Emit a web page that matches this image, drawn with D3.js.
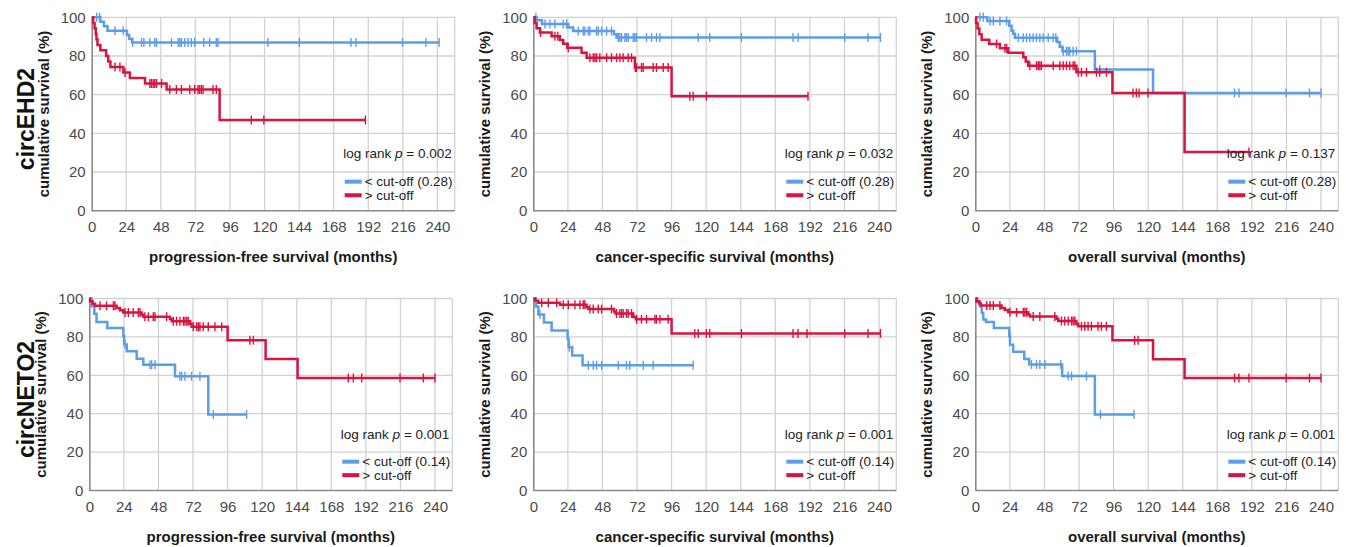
<!DOCTYPE html>
<html><head><meta charset="utf-8">
<script src="https://cdn.jsdelivr.net/npm/d3@7"></script>
<style>
html,body{margin:0;padding:0;background:#fff;}
svg{display:block;font-family:"Liberation Sans",Arial,sans-serif;}
</style></head>
<body><svg id="c" width="1346" height="547"></svg>
<script>
// ---------- data ----------
const rowLabels = ["circEHD2", "circNETO2"];
const cutoffs = ["0.28", "0.14"];
const xTitles = ["progression-free survival (months)", "cancer-specific survival (months)", "overall survival (months)"];
const pValues = [["0.002", "0.032", "0.137"], ["0.001", "0.001", "0.001"]];
const xTicks = [0, 24, 48, 72, 96, 120, 144, 168, 192, 216, 240];
const yTicks = [0, 20, 40, 60, 80, 100];
const legendLow = "< cut-off";
const legendHigh = "> cut-off";

// circEHD2 – progression-free survival
const pfsEHD2LowSteps = [[0,100],[6,97.7],[8.5,95.4],[11,93.1],[24.5,90.9],[26,88.9],[28,87.0]];
const pfsEHD2LowCens = [3.5,5.5,16.2,21.9,28.4,34.6,36.2,40.4,43.8,45,55.4,60,61.2,62.3,64.6,66.9,69.2,71.5,77.8,81.9,86.5,87.7,122.3,144.2,180,183.5,215.8,232,241.2];
const pfsEHD2HighSteps = [[0,100],[1,97.1],[2,94.3],[2.8,91.4],[3.3,88.6],[4,85.7],[6,82.9],[10,80],[11.5,77.1],[13,74.3],[22,71.4],[26.5,68.6],[37,65.8],[52,62.7],[88.8,46.9]];
const pfsEHD2HighCens = [16.2,19.6,23.1,40.4,41.5,42.7,43.8,45,48.5,54.2,58.8,62.3,68.1,71.5,73.8,75,76.2,77.3,84.2,86.5,110.8,119.5,190];

// circEHD2 – cancer-specific survival
const cssEHD2LowSteps = [[0,100],[2.3,98.5],[6,96.6],[24.3,94.7],[27.7,92.9],[56,91.2],[57.8,89.6]];
const cssEHD2LowCens = [1.8,8.1,11.6,15,20.8,23.1,31.2,34.7,35.8,38.2,39.3,43.9,45.1,47.4,50.9,54.3,59,60.1,61.3,63.6,64.7,65.9,69.4,70.5,71.7,78.6,82.1,85.5,87.9,114.5,122.5,144.5,180.3,183.8,216.2,232.4,241];
const cssEHD2HighSteps = [[0,100],[1,97.1],[2.3,94.3],[4.6,92.2],[12.7,90.2],[18.5,88.2],[20.8,86.3],[23.6,84.3],[33.5,81.7],[37,79.1],[70.5,74],[96,59.2]];
const cssEHD2HighCens = [5,15,17,24.3,39.3,41.6,42.8,43.9,46.2,50.9,54.3,57.8,60.1,62.4,65.9,68.2,70.8,71.7,75.1,76.3,83.2,85.5,90.2,93.6,108.7,111,120.2,190.7];

// circEHD2 – overall survival
const osEHD2LowSteps = [[0,100],[8.3,98.1],[23.6,95.6],[25.2,93.1],[26.3,91.5],[27.5,89.4],[56.8,87.2],[58.6,84.8],[60.5,82.5],[83,73],[123.4,60.9]];
const osEHD2LowCens = [3.2,5.5,10.2,12.5,17.1,21.7,29.8,33.3,35.6,37.9,40.2,42.5,44.8,47.1,50.6,54.1,55.9,61,63.3,64.5,65.6,67.9,70.2,86.4,180,183,215.8,232,240];
const osEHD2HighSteps = [[0,100],[0.5,97.1],[1.6,94.2],[2.8,91.3],[4.4,88.4],[9.7,86.2],[17.1,84],[22.9,81.7],[33.3,79.4],[35,77.2],[36.7,75],[70.2,71.6],[95.2,60.9],[145.3,30.4]];
const osEHD2HighCens = [14.8,20.6,21.7,37.9,42.5,43.7,44.8,45.9,54.1,58.7,61,63.3,65.6,67.9,69.1,71.4,73.7,77.2,84.1,86.4,91,109.5,111.8,113.7,119.9,190];

// circNETO2 – progression-free survival
const pfsNETO2LowSteps = [[0,100],[1.5,96],[3.5,92],[5,87.7],[12.5,84.7],[23.6,80.3],[24.2,76],[26,72.5],[32.9,68.6],[37.5,65.5],[59.5,59.5],[82.6,39.6]];
const pfsNETO2LowCens = [24.8,42.1,43.3,45.6,62.9,64.1,66.4,71,76.8,86.1,109.2];
const pfsNETO2HighSteps = [[0,100],[0.5,98.6],[2.3,97.3],[4,96.2],[19,95],[21.3,93.9],[23.6,92.7],[36.3,91.6],[37.5,90.5],[56,89.3],[57.2,88.2],[70,86.8],[71,85.3],[96,78.3],[122.4,68.5],[144.6,58.6]];
const pfsNETO2HighCens = [7.4,12,16.7,17.8,24.8,27.1,30.5,34,35.2,38.6,41,44.4,45.6,53.7,58.3,60.6,62.9,65.3,66.4,67.6,68.7,72.2,74.5,75.7,76.8,79.1,82.6,87.2,91.9,111.5,113.9,179.8,183.3,189.1,215.7,231.9,240];

// circNETO2 – cancer-specific survival
const cssNETO2LowSteps = [[0,100],[1.8,95.8],[3.5,91.7],[7.4,87.5],[12.7,83.3],[23.8,79],[24.5,74.6],[27,70.3],[34.2,65.2]];
const cssNETO2LowCens = [4.6,25,38.2,41.6,43.9,47.4,59,64.7,67,76.3,83.2,111];
const cssNETO2HighSteps = [[0,100],[1.2,98.8],[3.5,97.8],[18.5,96.7],[37,95.5],[38.2,94.5],[56,93.2],[57,92.2],[69.4,90.3],[71.2,89.2],[96,81.8]];
const cssNETO2HighCens = [5.8,10.4,16.2,20.8,24.3,28.9,32.4,34.7,35.8,39.3,41.6,45.1,47.4,54.3,57.8,60.1,61.3,62.4,64.7,65.9,68.2,71.7,75.1,78.6,84.4,85.5,87.9,93.6,112.1,114.5,120.2,122.5,144.5,180.3,183.8,190,216.2,232.4,241];

// circNETO2 – overall survival
const osNETO2LowSteps = [[0,100],[1.4,98],[3.2,96],[4.5,92.5],[5.5,89],[7.4,87.8],[12.9,84.7],[23.6,80.3],[24.1,75.9],[26.3,72.3],[34,68.5],[37.4,65.6],[60.3,59.6],[83,39.6]];
const osNETO2LowCens = [24,39,42.5,44.8,48.3,59.4,64.5,66.8,77.2,86.9,110.2];
const osNETO2HighSteps = [[0,100],[0.9,98.6],[2.8,97.4],[3.9,96.3],[18.2,95.1],[20.5,94],[22.9,92.8],[36.7,91.7],[37.9,90.6],[56.4,89.4],[57.6,88.3],[70.2,86.9],[71.4,85.5],[95.2,78.2],[123.4,68.4],[145.3,58.6]];
const osNETO2HighCens = [7.9,10.2,12.5,17.1,24,28.6,33.3,34.4,35.6,40.2,44.8,55.2,59.8,62.1,64.5,66.8,67.9,69.1,73.7,76,78.3,80.6,85.2,87.5,91,110.6,113,180,183,190,215.8,232,240];

const panels = [
  [ {low:[pfsEHD2LowSteps,pfsEHD2LowCens], high:[pfsEHD2HighSteps,pfsEHD2HighCens]},
    {low:[cssEHD2LowSteps,cssEHD2LowCens], high:[cssEHD2HighSteps,cssEHD2HighCens]},
    {low:[osEHD2LowSteps,osEHD2LowCens],   high:[osEHD2HighSteps,osEHD2HighCens]} ],
  [ {low:[pfsNETO2LowSteps,pfsNETO2LowCens], high:[pfsNETO2HighSteps,pfsNETO2HighCens]},
    {low:[cssNETO2LowSteps,cssNETO2LowCens], high:[cssNETO2HighSteps,cssNETO2HighCens]},
    {low:[osNETO2LowSteps,osNETO2LowCens],   high:[osNETO2HighSteps,osNETO2HighCens]} ]
];

// ---------- layout ----------
const BLUE = "#5c9de8", RED = "#d8143f";
const GRID = "#d2d2d2", AXIS = "#8a8a8a", TICKTXT = "#4a4a4a", TITLE = "#1a1a1a";
const rowsY = [[17.3, 210.7], [298.5, 490.5]];
const colsX = [[91.7, 533.3, 975.3], [89.3, 533.3, 975.3]];
const PW = 363;

const svg = d3.select("#c");

function valueAt(steps, t) {
  let v = steps[0][1];
  for (const s of steps) { if (s[0] <= t) v = s[1]; }
  return v;
}

for (let r = 0; r < 2; r++) {
  for (let c = 0; c < 3; c++) {
    const left = colsX[r][c], top = rowsY[r][0], bottom = rowsY[r][1];
    const x = d3.scaleLinear().domain([0, 252]).range([left, left + PW]);
    const y = d3.scaleLinear().domain([0, 100]).range([bottom, top]);
    const g = svg.append("g");

    // grid
    g.selectAll(".vg").data(xTicks.slice(1).concat([252])).enter().append("line")
      .attr("x1", d => x(d)).attr("x2", d => x(d)).attr("y1", y(0)).attr("y2", y(100))
      .attr("stroke", GRID).attr("stroke-width", 1.3);
    g.selectAll(".hg").data(yTicks.slice(1)).enter().append("line")
      .attr("x1", x(0)).attr("x2", x(252)).attr("y1", d => y(d)).attr("y2", d => y(d))
      .attr("stroke", GRID).attr("stroke-width", 1.3);

    // axes
    const xa = g.append("g").attr("transform", `translate(0,${y(0)})`)
      .call(d3.axisBottom(x).tickValues(xTicks).tickSize(0).tickPadding(11));
    const ya = g.append("g").attr("transform", `translate(${x(0)},0)`)
      .call(d3.axisLeft(y).tickValues(yTicks).tickSize(0).tickPadding(6));
    [xa, ya].forEach(a => {
      a.select(".domain").attr("stroke", AXIS).attr("stroke-width", 1.6);
      a.selectAll("text").attr("font-size", 15).attr("fill", TICKTXT)
        .attr("font-family", "Liberation Sans, Arial, sans-serif");
    });
    xa.select(".domain").attr("d", `M${x(0)},0H${x(252)}`);

    // axis titles
    g.append("text").attr("x", (x(0) + x(252)) / 2).attr("y", y(0) + 51)
      .attr("text-anchor", "middle").attr("font-size", 15).attr("font-weight", "bold")
      .attr("fill", TITLE).text(xTitles[c]);
    g.append("text").attr("transform", `translate(${x(0) - 43},${(top + bottom) / 2}) rotate(-90)`)
      .attr("text-anchor", "middle").attr("font-size", 15).attr("font-weight", "bold")
      .attr("fill", TITLE).text("cumulative survival (%)");

    // curves
    const line = d3.line().x(d => x(d[0])).y(d => y(d[1])).curve(d3.curveStepAfter);
    [["low", BLUE], ["high", RED]].forEach(([k, col]) => {
      const [steps, cens] = panels[r][c][k];
      const end = Math.max(d3.max(cens), steps[steps.length - 1][0]);
      const pts = steps.concat([[end, steps[steps.length - 1][1]]]);
      g.append("path").attr("d", line(pts)).attr("fill", "none")
        .attr("stroke", col).attr("stroke-width", 2.5);
      g.selectAll(null).data(cens).enter().append("line")
        .attr("x1", d => x(d)).attr("x2", d => x(d))
        .attr("y1", d => y(valueAt(steps, d)) - 4.5).attr("y2", d => y(valueAt(steps, d)) + 4.5)
        .attr("stroke", col).attr("stroke-width", 1.4);
    });

    // log rank + legend
    const rx = x(252);
    const lr = g.append("text").attr("x", rx - 3).attr("y", y(29.5)).attr("dy", "0.35em")
      .attr("text-anchor", "end").attr("font-size", 13.5).attr("fill", "#222");
    lr.append("tspan").text("log rank ");
    lr.append("tspan").attr("font-style", "italic").text("p");
    lr.append("tspan").text(" = " + pValues[r][c]);

    const tx = rx - 90;
    [[legendLow + " (" + cutoffs[r] + ")", BLUE, 15], [legendHigh, RED, 8]].forEach(([t, col, v]) => {
      g.append("line").attr("x1", tx - 20).attr("x2", tx - 3).attr("y1", y(v)).attr("y2", y(v))
        .attr("stroke", col).attr("stroke-width", 4);
      g.append("text").attr("x", tx).attr("y", y(v)).attr("dy", "0.35em")
        .attr("font-size", 13.5).attr("fill", "#222").text(t);
    });
  }
  // row label
  svg.append("text").attr("transform", `translate(33.5,${(rowsY[r][0] + rowsY[r][1]) / 2 + 5}) rotate(-90)`)
    .attr("text-anchor", "middle").attr("font-size", 23).attr("font-weight", "bold")
    .attr("fill", "#111").text(rowLabels[r]);
}
</script></body></html>
